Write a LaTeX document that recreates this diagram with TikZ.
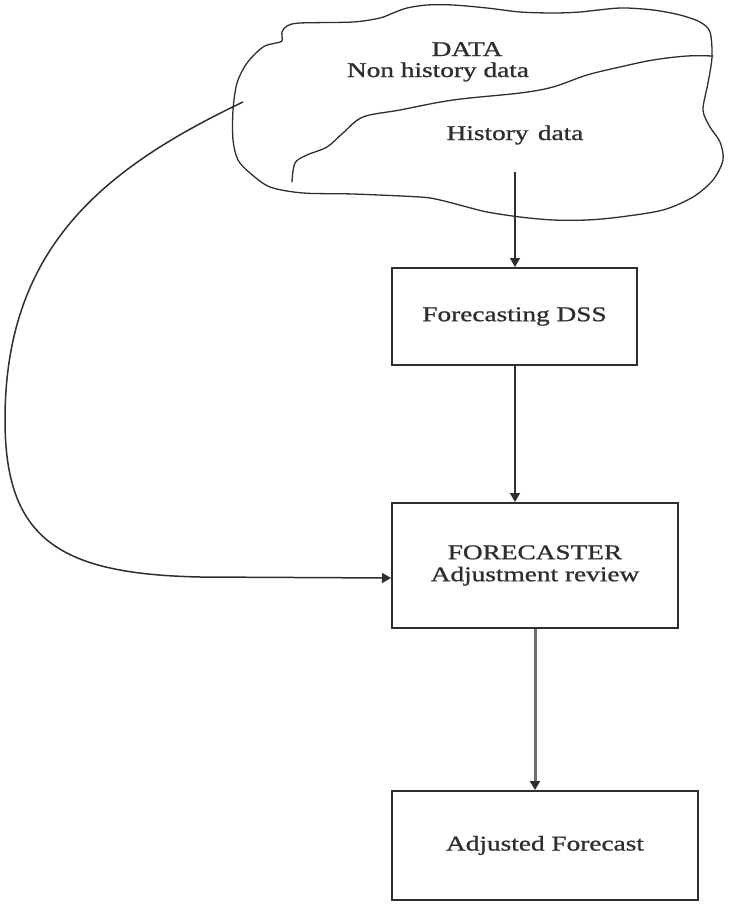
\documentclass[tikz,border=0pt]{standalone}
\usepackage{fontspec}
\setmainfont{Liberation Serif}
\newfontfamily\labelfont{Liberation Serif}[FakeBold=0.9]
\usetikzlibrary{arrows.meta}
\newcommand\wtext[1]{\scalebox{1.3}[1]{#1}}
\definecolor{ink}{HTML}{2E2E2E}
\definecolor{lightink}{HTML}{6E6E6E}
\begin{document}
\begin{tikzpicture}[x=1pt,y=-1pt,
  every node/.style={text=ink, font=\labelfont\fontsize{21}{22}\selectfont},
  stagebox/.style={draw=ink, line width=2pt, rectangle, align=center, inner sep=0pt},
  label text/.style={anchor=base, inner sep=0pt},
  sketch/.style={draw=ink, line width=1.3pt, line join=round, line cap=round},
  flow/.style={draw=ink, line width=1.5pt, -{Triangle[width=10pt,length=9pt]}},
  softflow/.style={draw=lightink, line width=3pt, -{Triangle[width=10pt,length=9pt,color=ink]}}]

\useasboundingbox (0,0) rectangle (730,905);

% hand-drawn data cloud
\draw[sketch] plot[smooth cycle, tension=0.5] coordinates {
  (282,41) (282,32) (287,26) (300,23) (353,22) (380,18) (393,13) (407,8)
  (427,5) (453,5) (487,8) (520,12) (553,13) (580,12) (620,8) (653,10)
  (680,15) (700,22) (710,32) (712,57) (708,83) (703,110) (710,127)
  (720,142) (723,160) (713,180) (693,197) (663,210) (620,217) (587,220)
  (553,220) (520,217) (487,212) (467,207) (440,200) (420,197) (353,194)
  (303,193) (270,187) (250,173) (238,160) (233,140) (233,110) (237,83)
  (247,63) (263,47) (276,43)};

% border between history and non history data
\draw[sketch] plot[smooth, tension=0.55] coordinates {
  (292,182) (295,163) (307,155) (327,147) (343,133) (363,117) (400,110)
  (453,100) (520,93) (553,87) (587,75) (620,67) (653,60) (687,56) (713,56)};

% labels inside the cloud
\node[label text] (data) at (467,56) {\wtext{DATA}};
\node[label text] (nonhist) at (438,77) {\wtext{Non history data}};
\node[label text] (hist) at (515,140) {\wtext{History\hspace{2pt} data}};

% process boxes
\node[stagebox, minimum width=245pt, minimum height=97pt] (dss) at (514.5,316.5)
  {\wtext{Forecasting DSS}};
\node[stagebox, minimum width=286pt, minimum height=125pt] (review) at (535,565.5)
  {\wtext{FORECASTER}\\\wtext{Adjustment review}};
\node[stagebox, minimum width=306pt, minimum height=109pt] (adjusted) at (545,845.5)
  {\wtext{Adjusted Forecast}};

% connectors
\coordinate (histout) at (515,172);
\coordinate (nonhistout) at (243,102);
\coordinate (reviewin) at ([yshift=-12.5pt]review.west);

\draw[flow] (histout) -- (histout |- dss.north);
\draw[flow] (dss.south -| histout) -- (histout |- review.north);
\draw[softflow] (review.south) -- (review.south |- adjusted.north);
\draw[flow] (nonhistout) .. controls (100,170) and (5,250) .. (5,420)
  .. controls (5,540) and (60,574) .. (200,577) -- (reviewin);
\end{tikzpicture}
\end{document}
